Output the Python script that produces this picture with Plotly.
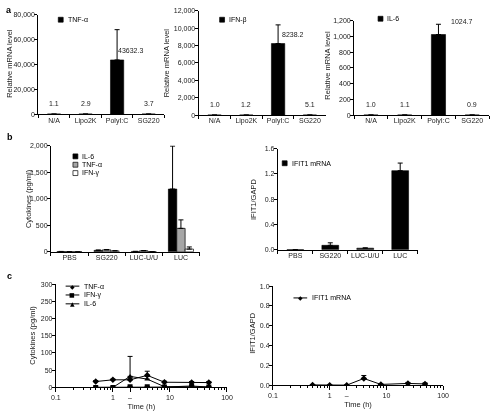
import plotly.graph_objects as go

W, H = 498, 413
FONT = "Arial, Liberation Sans, sans-serif"
TXT = "#1a1a1a"

# ---------------- data ----------------
a_cats = ["N/A", "Lipo2K", "PolyI:C", "SG220"]
a_tnf = [1.1, 2.9, 43632.3, 3.7]
a_tnf_err = [None, None, 24400, None]
a_ifnb = [1.0, 1.2, 8238.2, 5.1]
a_ifnb_err = [None, None, 2150, None]
a_il6 = [1.0, 1.1, 1024.7, 0.9]
a_il6_err = [None, None, 130, None]

b_cats = ["PBS", "SG220", "LUC-U/U", "LUC"]
b_il6 = [4, 25, 5, 1180]
b_il6_err = [2, 8, 2, 810]
b_tnf = [3, 35, 18, 440]
b_tnf_err = [1, 6, 4, 160]
b_ifng = [1, 15, 3, 50]
b_ifng_err = [1, 5, 1, 40]
b_ifit1 = [0.003, 0.07, 0.025, 1.25]
b_ifit1_err = [0.001, 0.04, 0.005, 0.12]

c_time = [0.5, 1, 2, 4, 8, 24, 48]
c_tnf = [17, 22, 22, 35, 15, 14, 14]
c_tnf_err = [3, 2, 5, 12, 3, 3, 3]
c_ifng = [0, 0, 2, 2, 1, 4, 1]
c_ifng_err = [0.5, 0.5, 1, 1, 0.5, 1, 0.5]
c_il6 = [0, 0, 32, 24, 2, 2, 1]
c_il6_err = [0, 0, 58, 8, 1, 1, 1]
c_ifit1 = [0.005, 0.003, 0.003, 0.07, 0.01, 0.02, 0.015]
c_ifit1_err = [0.001, 0.001, 0.001, 0.03, 0.003, 0.01, 0.01]

x_log_ticks = [0.1, 1, 2, 10, 100]
x_log_text = ["0.1", "1", "\u2013", "10", "100"]
x_log_minor = [v * m for v in (0.1, 1, 10) for m in range(2, 10)]

# ---------------- layout helpers ----------------
def dx(x0, x1):
    return [x0 / W, x1 / W]

def dy(y0, y1):
    return [1 - y1 / H, 1 - y0 / H]

def px(x):
    return x / W

def py(y):
    return 1 - y / H

tickfont = dict(family=FONT, size=7, color=TXT)

def yax(anchor, dom, rng, dtick, fmt):
    return dict(domain=dy(*dom), anchor=anchor, range=rng, dtick=dtick, tick0=0,
                tickformat=fmt, showline=True, linecolor="black", linewidth=1,
                ticks="outside", ticklen=3, tickwidth=1, tickcolor="black",
                ticklabelstandoff=-2,
                showgrid=False, zeroline=False, tickfont=tickfont, fixedrange=True)

def xcat(anchor, dom):
    return dict(domain=dx(*dom), anchor=anchor, type="category", showline=True,
                linecolor="black", linewidth=1, ticks="outside", ticklen=3,
                tickwidth=1, tickcolor="black", tickson="boundaries", tickangle=0,
                ticklabelstandoff=-1,
                showgrid=False, zeroline=False, tickfont=tickfont, fixedrange=True)

def xlog(anchor, dom):
    return dict(domain=dx(*dom), anchor=anchor, type="log", range=[-1, 2],
                tickvals=x_log_ticks, ticktext=x_log_text, tickangle=0, showline=True,
                linecolor="black", linewidth=1, ticks="outside", ticklen=4,
                tickwidth=1, tickcolor="black", showgrid=False, zeroline=False,
                ticklabelstandoff=-1,
                tickfont=tickfont, fixedrange=True,
                minor=dict(tickvals=x_log_minor, ticks="outside", ticklen=2,
                           tickwidth=1, tickcolor="black", showgrid=False),
                title=dict(text="Time (h)", font=dict(family=FONT, size=7.5, color=TXT),
                           standoff=3))

fig = go.Figure()

def err(arr, color="black"):
    return dict(type="data", array=arr, arrayminus=[0] * len(arr), symmetric=False,
                color=color, thickness=1, width=2.5)

# ---------------- panel a ----------------
for ax, vals, errs in (("", a_tnf, a_tnf_err), ("2", a_ifnb, a_ifnb_err), ("3", a_il6, a_il6_err)):
    fig.add_trace(go.Bar(x=a_cats, y=vals, width=0.42, marker=dict(color="black",
                         line=dict(color="black", width=0.6)),
                         error_y=err(errs), xaxis="x" + ax, yaxis="y" + ax, showlegend=False))

# ---------------- panel b ----------------
b_style = [(b_il6, b_il6_err, "black", -0.34), (b_tnf, b_tnf_err, "#a6a6a6", -0.115),
           (b_ifng, b_ifng_err, "white", 0.11)]
for vals, errs, col, off in b_style:
    fig.add_trace(go.Bar(x=b_cats, y=vals, width=0.225, offset=off,
                         marker=dict(color=col, line=dict(color="black", width=0.7)),
                         error_y=err(errs), xaxis="x4", yaxis="y4", showlegend=False))
fig.add_trace(go.Bar(x=b_cats, y=b_ifit1, width=0.48,
                     marker=dict(color="black", line=dict(color="black", width=0.6)),
                     error_y=err(b_ifit1_err), xaxis="x5", yaxis="y5", showlegend=False))

# ---------------- panel c ----------------
c_style = [(c_tnf, c_tnf_err, "diamond"), (c_ifng, c_ifng_err, "square"),
           (c_il6, c_il6_err, "triangle-up")]
for vals, errs, sym in c_style:
    fig.add_trace(go.Scatter(x=c_time, y=vals, mode="lines+markers",
                             line=dict(color="black", width=1),
                             marker=dict(symbol=sym, size=5, color="black"),
                             error_y=err(errs), xaxis="x6", yaxis="y6", showlegend=False))
fig.add_trace(go.Scatter(x=c_time, y=c_ifit1, mode="lines+markers",
                         line=dict(color="black", width=1),
                         marker=dict(symbol="diamond", size=5, color="black"),
                         error_y=err(c_ifit1_err), xaxis="x7", yaxis="y7", showlegend=False))

layout = dict(
    width=W, height=H, margin=dict(l=0, r=0, t=0, b=0),
    paper_bgcolor="white", plot_bgcolor="white", barmode="overlay",
    font=dict(family=FONT, size=7, color=TXT),
    xaxis=xcat("y", (34, 163)), yaxis=yax("x", (11, 112), [0, 80000], 20000, ","),
    xaxis2=xcat("y2", (198, 328)), yaxis2=yax("x2", (7, 113), [0, 12000], 2000, ","),
    xaxis3=xcat("y3", (357, 495)), yaxis3=yax("x3", (17, 113), [0, 1200], 200, ","),
    xaxis4=xcat("y4", (47, 199)), yaxis4=yax("x4", (144, 252), [0, 2000], 500, ","),
    xaxis5=xcat("y5", (279, 422)), yaxis5=yax("x5", (147, 250), [0, 1.6], 0.4, ".1f"),
    xaxis6=xlog("y6", (52, 227)), yaxis6=yax("x6", (285, 390), [0, 300], 50, ""),
    xaxis7=xlog("y7", (274, 448)), yaxis7=yax("x7", (287, 388), [0, 1.0], 0.2, ".1f"),
)

ann = []
shapes = []

# value labels for panel a
label_shift = {"": (13, 4), "2": (15, 4), "3": (24, 8)}
for ax, vals in (("", a_tnf), ("2", a_ifnb), ("3", a_il6)):
    big = max(vals)
    for c, v in zip(a_cats, vals):
        xs, ys = label_shift[ax] if v == big else (0, 5)
        ann.append(dict(x=c, y=v, xref="x" + ax, yref="y" + ax, text=f"{v:.1f}",
                        showarrow=False, xanchor="center", yanchor="bottom",
                        xshift=xs, yshift=ys, font=dict(family=FONT, size=7, color=TXT)))

# panel letters
for letter, (x, y) in {"a": (4.5, 6), "b": (5, 135), "c": (5, 277)}.items():
    ann.append(dict(x=px(x), y=py(y), xref="paper", yref="paper", text=f"<b>{letter}</b>",
                    showarrow=False, xanchor="center", yanchor="middle",
                    font=dict(family=FONT, size=9, color="black")))

# y axis titles
ytitles = [("Relative mRNA level", 5, 60), ("Relative mRNA level", 166, 60),
           ("Relative mRNA level", 330, 62), ("Cytokines (pg/ml)", 24, 198),
           ("IFIT1/GAPD", 254, 199), ("Cytokines (pg/ml)", 28, 337),
           ("IFIT1/GAPD", 253, 335)]
for t, x, y in ytitles:
    ann.append(dict(x=px(x), y=py(y), xref="paper", yref="paper", text=t, textangle=-90,
                    showarrow=False, xanchor="center", yanchor="middle",
                    font=dict(family=FONT, size=7.5, color=TXT)))

# legends: bar swatches
def swatch(x, y, color, label):
    shapes.append(dict(type="rect", xref="paper", yref="paper",
                       x0=px(x - 2.5), x1=px(x + 2.5), y0=py(y + 2.5), y1=py(y - 2.5),
                       fillcolor=color, line=dict(color="black", width=0.7)))
    ann.append(dict(x=px(x + 5), y=py(y), xref="paper", yref="paper", text=label,
                    showarrow=False, xanchor="left", yanchor="middle",
                    font=dict(family=FONT, size=7, color="black")))

swatch(57, 16, "black", "TNF-\u03b1")
swatch(222, 16, "black", "IFN-\u03b2")
swatch(384, 15, "black", "IL-6")
swatch(72, 155, "black", "IL-6")
swatch(72, 163.5, "#a6a6a6", "TNF-\u03b1")
swatch(72, 172, "white", "IFN-\u03b3")
swatch(286, 162, "black", "IFIT1 mRNA")

# legends: line + marker
glyph = {"diamond": "\u25c6", "square": "\u25a0", "triangle-up": "\u25b2"}
def line_key(x0, x1, y, sym, label):
    shapes.append(dict(type="line", xref="paper", yref="paper", x0=px(x0), x1=px(x1),
                       y0=py(y), y1=py(y), line=dict(color="black", width=1)))
    ann.append(dict(x=px((x0 + x1) / 2), y=py(y), xref="paper", yref="paper",
                    text=glyph[sym], showarrow=False, xanchor="center", yanchor="middle",
                    font=dict(family="DejaVu Sans", size=6, color="black")))
    ann.append(dict(x=px(x1 + 3), y=py(y), xref="paper", yref="paper", text=label,
                    showarrow=False, xanchor="left", yanchor="middle",
                    font=dict(family=FONT, size=7, color="black")))

line_key(62, 76, 287, "diamond", "TNF-\u03b1")
line_key(62, 76, 296, "square", "IFN-\u03b3")
line_key(62, 76, 305, "triangle-up", "IL-6")
line_key(295, 309, 299, "diamond", "IFIT1 mRNA")

layout["annotations"] = ann
layout["shapes"] = shapes
fig.update_layout(**layout)

fig.write_html(
    "out.html", config={"displayModeBar": False},
    post_script=("document.body.style.margin='0';document.body.style.overflow='hidden';"
                 "document.querySelectorAll('.main-svg').forEach(function(s){s.style.willChange='transform';});"))
